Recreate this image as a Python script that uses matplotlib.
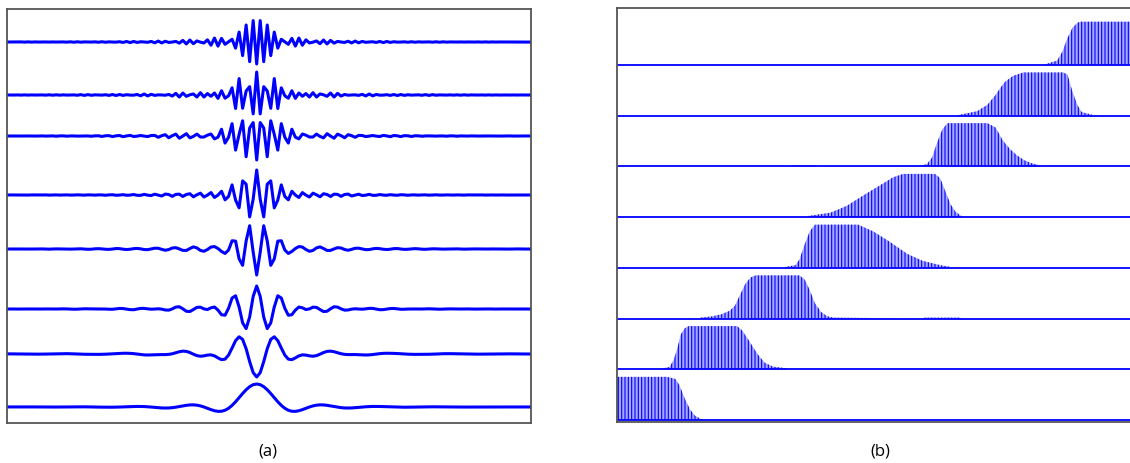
import matplotlib
matplotlib.use('Agg')
import matplotlib.pyplot as plt
import numpy as np

plt.rcParams['hatch.linewidth'] = 0.8

# Spectral envelopes of the 8 wavelet packets (panel b), bottom row first.
# Frequencies in cycles/sample (0 .. 0.5), heights relative to the flat top.
band_freqs = [
    [0.0, 0.049, 0.057, 0.061, 0.066, 0.071, 0.076, 0.081, 0.084],
    [0.044, 0.051, 0.055, 0.059, 0.062, 0.066, 0.070, 0.117, 0.122, 0.129, 0.137, 0.144, 0.152, 0.166],
    [0.081, 0.093, 0.102, 0.110, 0.115, 0.120, 0.125, 0.130, 0.135, 0.178, 0.183, 0.188, 0.193, 0.199,
     0.205, 0.211, 0.297, 0.300, 0.334, 0.337],
    [0.164, 0.174, 0.178, 0.183, 0.188, 0.193, 0.235, 0.250, 0.266, 0.283, 0.298, 0.315, 0.325],
    [0.185, 0.208, 0.224, 0.240, 0.256, 0.269, 0.279, 0.310, 0.315, 0.320, 0.325, 0.330, 0.336],
    [0.170, 0.172, 0.193, 0.195, 0.295, 0.302, 0.307, 0.312, 0.317, 0.322, 0.361, 0.369, 0.376, 0.383,
     0.390, 0.397, 0.403, 0.412],
    [0.332, 0.351, 0.361, 0.369, 0.373, 0.378, 0.386, 0.396, 0.435, 0.439, 0.444, 0.449, 0.453, 0.463],
    [0.417, 0.429, 0.434, 0.439, 0.444, 0.449, 0.452, 0.5],
]
band_heights = [
    [1.0, 1.0, 0.95, 0.8, 0.5, 0.25, 0.1, 0.03, 0.01],
    [0.02, 0.05, 0.2, 0.5, 0.8, 0.95, 1.0, 1.0, 0.9, 0.65, 0.35, 0.15, 0.06, 0.02],
    [0.02, 0.05, 0.1, 0.18, 0.3, 0.55, 0.8, 0.95, 1.0, 1.0, 0.9, 0.65, 0.35, 0.15,
     0.05, 0.02, 0.0, 0.02, 0.02, 0.0],
    [0.02, 0.06, 0.2, 0.55, 0.85, 1.0, 1.0, 0.84, 0.6, 0.32, 0.16, 0.06, 0.02],
    [0.02, 0.1, 0.26, 0.5, 0.73, 0.92, 1.0, 1.0, 0.9, 0.6, 0.3, 0.12, 0.02],
    [0.0, 0.02, 0.02, 0.0, 0.01, 0.05, 0.2, 0.55, 0.85, 1.0, 1.0, 0.9, 0.6, 0.4,
     0.25, 0.14, 0.08, 0.02],
    [0.01, 0.1, 0.25, 0.48, 0.62, 0.78, 0.92, 1.0, 1.0, 0.95, 0.55, 0.23, 0.08, 0.02],
    [0.01, 0.1, 0.3, 0.62, 0.86, 0.98, 1.0, 1.0],
]

# Time-domain packets (panel a), bottom row first
n_samples = 150
center_sample = 71
packet_sign = [1, -1, 1, -1, 1, -1, 1, -1]
packet_amp = [23, 23, 23, 26, 25, 24, 23, 22]
packet_offset = [16, 69, 114, 174, 228, 287, 328, 381]

fig = plt.figure(figsize=(11.3, 4.64), dpi=100)
W, H = 1130.0, 464.0
ax_a = fig.add_axes([7 / W, (H - 424) / H, 524 / W, 414 / H])
ax_b = fig.add_axes([617 / W, (H - 423) / H, 513 / W, 414 / H])

# Panel (a): synthesise each packet from its spectrum
t = np.arange(n_samples)
f_grid = np.linspace(0, 0.5, 2001)
for k in range(8):
    spec = np.interp(f_grid, band_freqs[k], band_heights[k], left=0, right=0)
    wave = (spec[None, :] * np.cos(2 * np.pi * f_grid[None, :] * (t[:, None] - center_sample))).sum(axis=1)
    wave = packet_sign[k] * packet_amp[k] * wave / np.abs(wave).max()
    ax_a.plot(t, wave + packet_offset[k], color='#0000ff', lw=2.2)
ax_a.set_xlim(0, n_samples - 1)
ax_a.set_ylim(0, 414)

# Panel (b): stacked spectra with stem-like hatching
for k in range(8):
    fx = np.array(band_freqs[k])
    fy = np.array(band_heights[k]) * 0.85 + k
    px = np.concatenate([[fx[0]], fx, [fx[-1]]])
    py = np.concatenate([[k], fy, [k]])
    ax_b.fill(px, py, facecolor='#a8a8ff', edgecolor='#0000ff', hatch='|||||', lw=0)
    ax_b.axhline(k, color='#0000ff', lw=1.3)
ax_b.set_xlim(0, 0.5)
ax_b.set_ylim(-0.04, 8.12)
ax_b.spines['right'].set_visible(False)

for ax in (ax_a, ax_b):
    ax.set_xticks([])
    ax.set_yticks([])
    for s in ax.spines.values():
        s.set_color('#555555')
        s.set_linewidth(1.3)

fig.text(268 / W, 1 - 452 / H, '(a)', ha='center', va='center', fontsize=12, family='Open Sans')
fig.text(880 / W, 1 - 452 / H, '(b)', ha='center', va='center', fontsize=12, family='Open Sans')

fig.savefig('out.png', dpi=100)
